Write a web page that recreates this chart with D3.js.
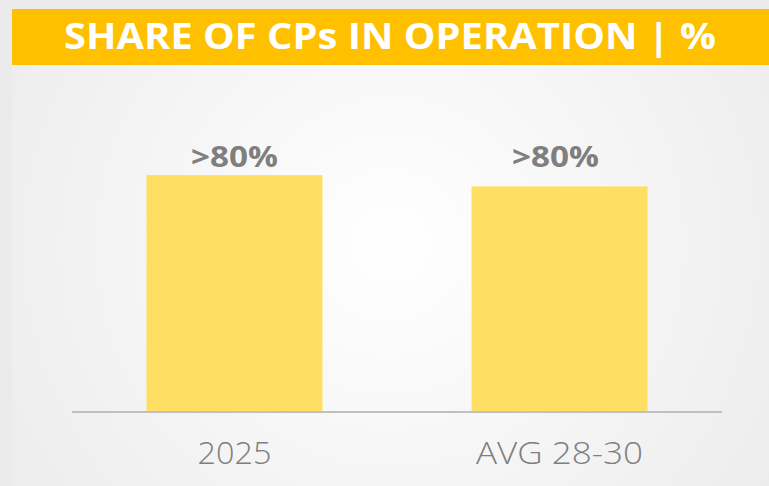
<!DOCTYPE html>
<html>
<head>
<meta charset="utf-8">
<script src="https://cdn.jsdelivr.net/npm/d3@7"></script>
<style>
  html, body { margin: 0; padding: 0; background: #ebebeb; }
  svg { display: block; }
</style>
</head>
<body>
<svg id="chart"></svg>
<script>
const categories = ['2025', 'AVG 28-30']
const values = [84, 80]
const valueLabels = ['>80%', '>80%']
const title = 'SHARE OF CPs IN OPERATION | %'

const width = 769
const height = 486

const svg = d3.select('#chart')
  .attr('width', width)
  .attr('height', height)

// background
const defs = svg.append('defs')
const grad = defs.append('radialGradient')
  .attr('id', 'bg')
  .attr('gradientUnits', 'userSpaceOnUse')
  .attr('cx', 390).attr('cy', 245).attr('r', 460)
grad.append('stop').attr('offset', '0%').attr('stop-color', '#ffffff')
grad.append('stop').attr('offset', '100%').attr('stop-color', '#ececec')

svg.append('rect')
  .attr('width', width).attr('height', height)
  .attr('fill', '#ebebeb')
svg.append('rect')
  .attr('x', 12).attr('y', 9)
  .attr('width', width - 12).attr('height', height - 9)
  .attr('fill', 'url(#bg)')

// title banner
svg.append('rect')
  .attr('x', 12).attr('y', 9)
  .attr('width', width - 12).attr('height', 56)
  .attr('fill', '#ffc000')
svg.append('text')
  .attr('x', 390).attr('y', 49)
  .attr('text-anchor', 'middle')
  .attr('font-family', 'Open Sans, sans-serif')
  .attr('font-weight', 700)
  .attr('font-size', 35)
  .attr('fill', '#ffffff')
  .attr('textLength', 652)
  .attr('lengthAdjust', 'spacingAndGlyphs')
  .text(title)

// scales
const x = d3.scaleBand()
  .domain(categories)
  .range([72, 722])
  .paddingInner(0.4585)
  .paddingOuter(0.229)

const y = d3.scaleLinear()
  .domain([0, 100])
  .range([412, 130])

// bars
svg.selectAll('.bar')
  .data(categories)
  .join('rect')
  .attr('class', 'bar')
  .attr('x', d => x(d))
  .attr('y', (d, i) => y(values[i]))
  .attr('width', x.bandwidth())
  .attr('height', (d, i) => y(0) - y(values[i]))
  .attr('fill', '#ffdf63')

// value labels (all on one line above the tallest bar)
const labelY = y(d3.max(values)) - 8
svg.selectAll('.val')
  .data(categories)
  .join('text')
  .attr('class', 'val')
  .attr('x', (d, i) => x(d) + x.bandwidth() / 2 - i * 4)
  .attr('y', labelY)
  .attr('text-anchor', 'middle')
  .attr('font-family', 'Open Sans, sans-serif')
  .attr('font-weight', 700)
  .attr('font-size', 28)
  .attr('fill', '#7f7f7f')
  .attr('textLength', 87)
  .attr('lengthAdjust', 'spacingAndGlyphs')
  .text((d, i) => valueLabels[i])

// x axis
const xAxis = svg.append('g')
  .attr('transform', `translate(0,${y(0)})`)
  .call(d3.axisBottom(x).tickSize(0).tickPadding(0))
xAxis.select('.domain').remove()
xAxis.append('line')
  .attr('x1', 72).attr('x2', 722)
  .attr('stroke', '#c0c0c0')
  .attr('stroke-width', 2)
xAxis.selectAll('.tick text')
  .attr('y', 52)
  .attr('dy', 0)
  .attr('font-family', 'Open Sans, sans-serif')
  .attr('font-weight', 300)
  .attr('font-size', 31)
  .attr('fill', '#7f7f7f')
  .attr('textLength', d => d === '2025' ? 74 : 167)
  .attr('lengthAdjust', 'spacingAndGlyphs')
</script>
</body>
</html>
